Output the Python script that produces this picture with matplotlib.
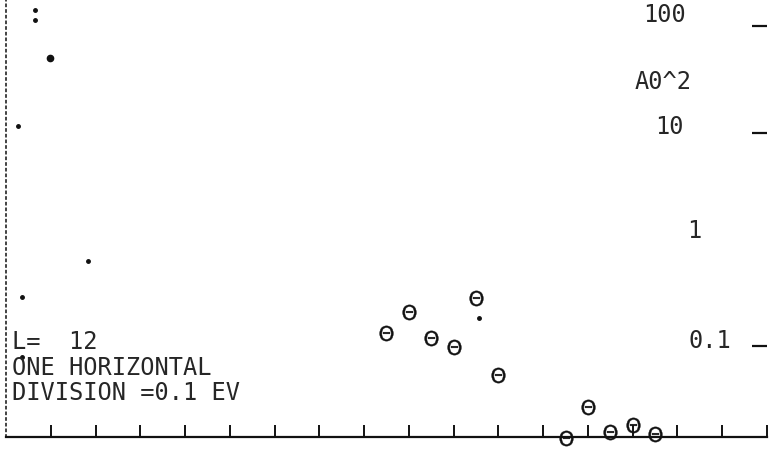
import matplotlib
matplotlib.use("Agg")
import matplotlib.pyplot as plt

# Energy (eV), one horizontal division = 0.1 eV
energy = [0.85, 0.90, 0.95, 1.00, 1.05, 1.10, 1.25, 1.30, 1.35, 1.40, 1.45]
a0_sq = [0.132, 0.209, 0.119, 0.098, 0.282, 0.053, 0.0137, 0.0267, 0.0156, 0.0181, 0.0149]

# small dot marks
dot_x = [0.065, 0.065, 0.027, 0.183, 0.036, 0.036, 1.057]
dot_y = [143.0, 115.0, 11.6, 0.63, 0.29, 0.079, 0.183]
big_dot_x = [0.098]
big_dot_y = [50.6]

x_ticks = [0.1 * k for k in range(1, 18)]
y_ticks = [0.1, 10, 100]
y_tick_labels = ["0.1", "1", "10", "100"]

W, H = 771, 449
fig = plt.figure(figsize=(W / 100, H / 100), dpi=100)
ax = fig.add_axes([6 / W, (H - 437) / H, 761 / W, 437 / H])
ax.set_xlim(0, 1.7)
ax.set_yscale("log")
ax.set_ylim(0.0140, 177)

for s in ["top", "right"]:
    ax.spines[s].set_visible(False)
ax.spines["bottom"].set_linewidth(1.6)
ax.spines["bottom"].set_color("#111111")
ax.spines["left"].set_linestyle((0, (1.2, 2.2)))
ax.spines["left"].set_linewidth(1.2)
ax.spines["left"].set_color("#222222")

ax.set_xticks(x_ticks)
ax.tick_params(axis="x", direction="in", length=9, width=1.4, color="#111111",
               labelbottom=False)
ax.yaxis.tick_right()
ax.set_yticks(y_ticks)
ax.yaxis.set_minor_locator(matplotlib.ticker.NullLocator())
ax.tick_params(axis="y", direction="in", length=11, width=1.6, color="#111111",
               labelright=False, labelleft=False)

ax.plot(energy, a0_sq, linestyle="none", marker=r"$\Theta$", markersize=11,
        color="#111111", markeredgewidth=0.3, clip_on=False)
ax.plot(dot_x, dot_y, linestyle="none", marker="o", markersize=2.5, color="#111111",
        clip_on=False)
ax.plot(big_dot_x, big_dot_y, linestyle="none", marker="o", markersize=4.5,
        color="#111111", clip_on=False)

font = dict(family="DejaVu Sans Mono", fontsize=17, color="#262626", va="center", ha="left")


def px(x, y):
    return x / W, 1 - y / H


fig.text(*px(12, 342), "L=  12", **font)
fig.text(*px(12, 368), "ONE HORIZONTAL", **font)
fig.text(*px(12, 393), "DIVISION =0.1 EV", **font)

label_pos = {"100": (643, 15), "10": (655, 127), "1": (687, 231), "0.1": (688, 341)}
for lab in y_tick_labels:
    fig.text(*px(*label_pos[lab]), lab, **font)
fig.text(*px(635, 82), "A0^2", **font)

fig.savefig("out.png", dpi=100)
